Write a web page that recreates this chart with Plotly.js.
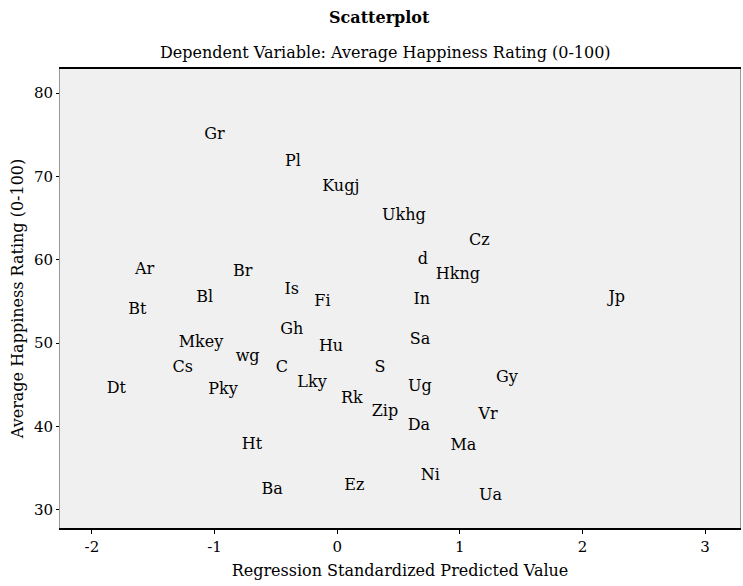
<!DOCTYPE html>
<html>
<head>
<meta charset="utf-8">
<script src="https://cdn.plot.ly/plotly-3.0.1.min.js"></script>
<style>html,body{margin:0;padding:0;background:#fff;}#chart{width:743px;height:586px;}</style>
</head>
<body>
<div id="chart"></div>
<script>
// Case labels drawn at each point
const caseLabels = ["Gr","Pl","Kugj","Ukhg","Cz","Ar","Br","d","Hkng","Jp",
  "Bt","Bl","Is","Fi","In","Gh","Hu","Sa","Mkey","wg",
  "C","Lky","Cs","Pky","Dt","S","Ug","Rk","Zip","Da",
  "Gy","Vr","Ma","Ni","Ua","Ht","Ba","Ez"];
// Regression Standardized Predicted Value
const predicted = [-1.00,-0.36,0.03,0.545,1.16,-1.57,-0.77,0.70,0.985,2.28,
  -1.63,-1.08,-0.37,-0.12,0.69,-0.37,-0.05,0.675,-1.11,-0.73,
  -0.45,-0.205,-1.26,-0.93,-1.80,0.35,0.675,0.12,0.39,0.667,
  1.385,1.23,1.03,0.76,1.25,-0.695,-0.53,0.14];
// Dependent variable
const observed = [75.0,71.7,68.7,65.3,62.3,58.8,58.5,60.0,58.2,55.4,
  54.0,55.4,56.4,54.9,55.2,51.6,49.5,50.4,50.0,48.3,
  47.0,45.2,47.0,44.4,44.5,47.0,44.7,43.3,41.7,40.0,
  45.8,41.4,37.6,34.1,31.6,37.8,32.4,32.9];
const xTicks = [-2,-1,0,1,2,3];
const yTicks = [30,40,50,60,70,80];

const FONT = "DejaVu Serif";

const trace = {
  type: "scatter",
  mode: "text",
  x: predicted,
  y: observed,
  text: caseLabels,
  textposition: "middle center",
  textfont: {family: FONT, size: 16, color: "#000"},
  hoverinfo: "skip",
  showlegend: false
};

const layout = {
  width: 743, height: 586,
  margin: {l: 60, r: 3, t: 69, b: 58, pad: 0},
  paper_bgcolor: "#ffffff",
  plot_bgcolor: "#f0f0f0",
  font: {family: FONT, size: 15, color: "#000"},
  showlegend: false,
  xaxis: {
    range: [-2.26, 3.285],
    tickvals: xTicks,
    ticktext: xTicks.map(String),
    showgrid: false, zeroline: false,
    showline: true, linecolor: "#000", linewidth: 2, mirror: true,
    ticks: "outside", ticklen: 4, tickcolor: "#000",
    tickfont: {family: FONT, size: 15, color: "#000"},
    title: {text: "Regression Standardized Predicted Value", font: {family: FONT, size: 16, color: "#000"}, standoff: 10},
    fixedrange: true
  },
  yaxis: {
    range: [27.8, 82.9],
    tickvals: yTicks,
    ticktext: yTicks.map(String),
    showgrid: false, zeroline: false,
    showline: true, linecolor: "#9a9a9a", linewidth: 1, mirror: true,
    ticks: "outside", ticklen: 3, tickcolor: "#000",
    tickfont: {family: FONT, size: 15, color: "#000"},
    title: {text: "Average Happiness Rating (0-100)", font: {family: FONT, size: 16, color: "#000"}, standoff: 6},
    fixedrange: true
  },
  annotations: [
    {text: "<b>Scatterplot</b>", xref: "paper", yref: "paper", x: 0.47, y: 1.113,
     xanchor: "center", yanchor: "middle", showarrow: false,
     font: {family: FONT, size: 16, color: "#000"}},
    {text: "Dependent Variable: Average Happiness Rating (0-100)", xref: "paper", yref: "paper", x: 0.478, y: 1.035,
     xanchor: "center", yanchor: "middle", showarrow: false,
     font: {family: FONT, size: 16, color: "#000"}}
  ]
};

Plotly.newPlot("chart", [trace], layout, {staticPlot: true, displayModeBar: false});
</script>
</body>
</html>
